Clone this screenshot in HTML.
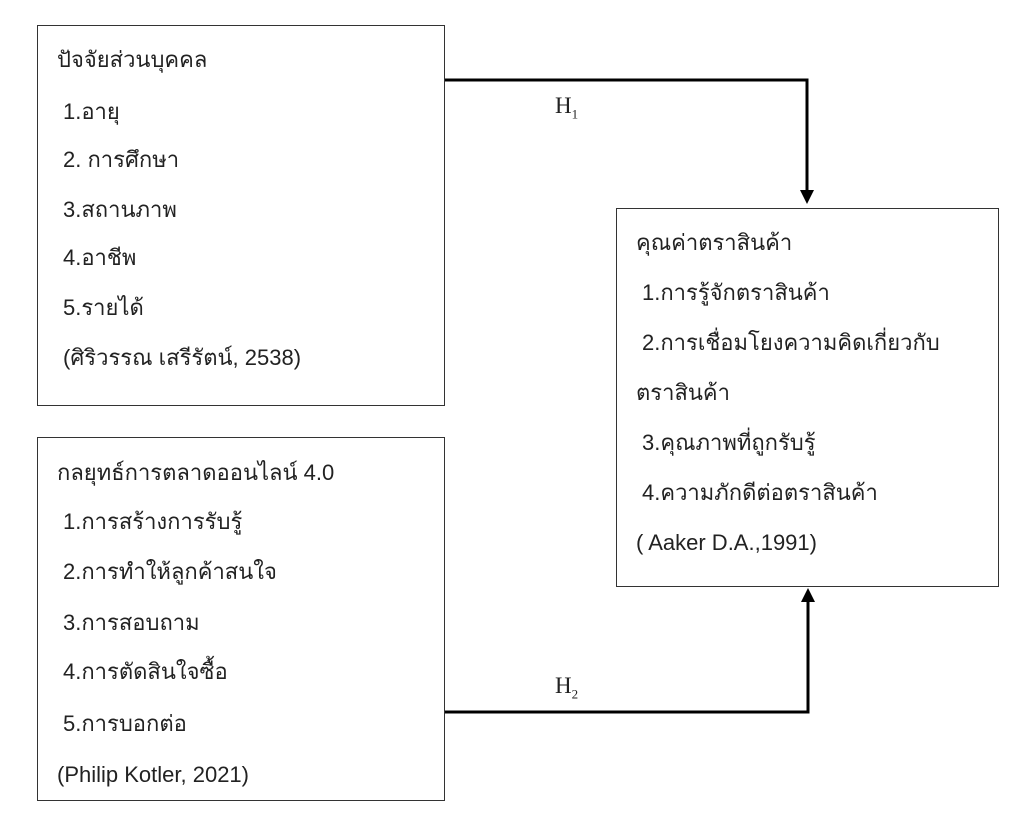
<!DOCTYPE html>
<html><head><meta charset="utf-8"><style>
body{margin:0;width:1020px;height:840px;background:#fff;position:relative;overflow:hidden;font-family:"Liberation Sans","Noto Sans CJK SC",sans-serif;color:#222}
.b{position:absolute;border:1.5px solid #333;box-sizing:border-box}
.t{position:absolute;font-size:22px;line-height:26px;white-space:nowrap}
.h{position:absolute;font-family:"Liberation Serif",serif;font-size:23px}
.h sub{font-size:13px}
</style></head><body>
<div class="b" style="left:37px;top:25px;width:408px;height:381px"></div>
<div class="b" style="left:37px;top:437px;width:408px;height:364px"></div>
<div class="b" style="left:616px;top:208px;width:383px;height:379px"></div>
<svg width="1020" height="840" style="position:absolute;left:0;top:0">
<polyline points="445,80 807,80 807,192" fill="none" stroke="#000" stroke-width="3"/>
<polygon points="800,190 814,190 807,204" fill="#000"/>
<polyline points="445,712 808,712 808,600" fill="none" stroke="#000" stroke-width="3"/>
<polygon points="801,602 815,602 808,588" fill="#000"/>
</svg>
<div class="h" style="left:555px;top:93px">H<sub>1</sub></div>
<div class="h" style="left:555px;top:673px">H<sub>2</sub></div>

<div class="t" style="left:57px;top:47px">ปัจจัยส่วนบุคคล</div>
<div class="t" style="left:63px;top:99px">1.อายุ</div>
<div class="t" style="left:63px;top:147px">2. การศึกษา</div>
<div class="t" style="left:63px;top:197px">3.สถานภาพ</div>
<div class="t" style="left:63px;top:245px">4.อาชีพ</div>
<div class="t" style="left:63px;top:295px">5.รายได้</div>
<div class="t" style="left:63px;top:345px">(ศิริวรรณ เสรีรัตน์, 2538)</div>

<div class="t" style="left:57px;top:460px">กลยุทธ์การตลาดออนไลน์ 4.0</div>
<div class="t" style="left:63px;top:509px">1.การสร้างการรับรู้</div>
<div class="t" style="left:63px;top:559px">2.การทำให้ลูกค้าสนใจ</div>
<div class="t" style="left:63px;top:610px">3.การสอบถาม</div>
<div class="t" style="left:63px;top:659px">4.การตัดสินใจซื้อ</div>
<div class="t" style="left:63px;top:711px">5.การบอกต่อ</div>
<div class="t" style="left:57px;top:762px">(Philip Kotler, 2021)</div>

<div class="t" style="left:636px;top:230px">คุณค่าตราสินค้า</div>
<div class="t" style="left:642px;top:280px">1.การรู้จักตราสินค้า</div>
<div class="t" style="left:642px;top:330px">2.การเชื่อมโยงความคิดเกี่ยวกับ</div>
<div class="t" style="left:636px;top:380px">ตราสินค้า</div>
<div class="t" style="left:642px;top:430px">3.คุณภาพที่ถูกรับรู้</div>
<div class="t" style="left:642px;top:480px">4.ความภักดีต่อตราสินค้า</div>
<div class="t" style="left:636px;top:530px">( Aaker D.A.,1991)</div>
</body></html>
